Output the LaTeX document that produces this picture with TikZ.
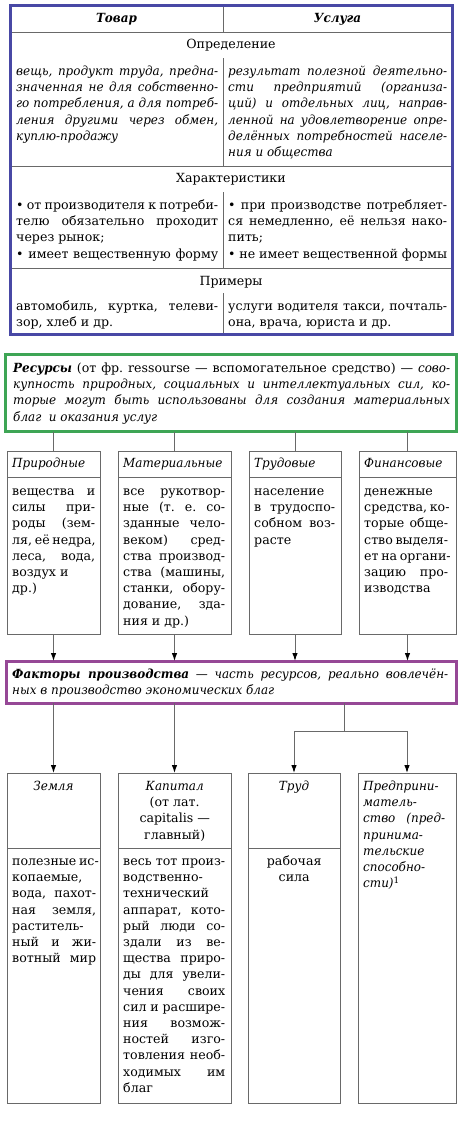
\documentclass[tikz,border=0pt]{standalone}
\usepackage{fontspec}
\setmainfont{DejaVu Serif}[ItalicFeatures={FakeStretch=0.95},BoldItalicFeatures={FakeStretch=0.95}]
\usetikzlibrary{arrows.meta,positioning}

\definecolor{tabblue}{RGB}{72,72,165}
\definecolor{resgreen}{RGB}{62,165,85}
\definecolor{fakviolet}{RGB}{150,72,150}
\definecolor{linegray}{RGB}{105,105,105}

\newcommand\fsize{\fontsize{12.6}{16.2}\selectfont\frenchspacing}
% a block of printed lines, and one line: justified, left or centred
\newcommand\linesbox[2]{\vtop{\hsize=#1pt\relax\parindent=0pt #2}}
\newcommand\jline[1]{\hbox to\hsize{\strut#1}}
\newcommand\lline[1]{\hbox{\strut#1}}
\newcommand\cenline[1]{\hbox to\hsize{\hfil\strut#1\hfil}}

\begin{document}
\begin{tikzpicture}[x=1pt,y=-1pt,
    font=\fsize,
    thinline/.style={draw=linegray, line width=1pt},
    cell/.style={thinline, anchor=north west, inner sep=0pt, outer sep=0pt, minimum width=#1},
    frame/.style={draw=#1, line width=3pt, anchor=north west, inner sep=0pt, outer sep=0pt},
    txt/.style={anchor=north west, inner sep=0pt},
    head/.style={anchor=base, inner sep=0pt},
    arr/.style={thinline, -{Latex[length=8pt,width=5.5pt,color=black]}}
]
\useasboundingbox (0,0) rectangle (474,1122);

% Table: goods and services
\draw[thinline] (10,32) -- (452,32);
\draw[thinline] (10,166) -- (452,166);
\draw[thinline] (10,268) -- (452,268);
\draw[thinline] (223,5) -- (223,32);
\draw[thinline] (223,58) -- (223,166);
\draw[thinline] (223,192) -- (223,268);
\draw[thinline] (223,293) -- (223,334);
\node[frame=tabblue, minimum width=442, minimum height=329] (tab) at (10,5.3) {};

\node[head] (tovar) at (116.5,22) {\bfseries\itshape Товар};
\node[head] (usluga) at (337.5,22) {\bfseries\itshape Услуга};
\node[head] (opred) at (231,48.5) {Определение};
\node[head] (harakt) at (231,182.5) {Характеристики};
\node[head] (primer) at (231,285.5) {Примеры};

\node[txt] (defL) at (16,64) {\linesbox{202}{\itshape
  \jline{вещь, продукт труда, предна-}
  \jline{значенная не для собственно-}
  \jline{го потребления, а для потреб-}
  \jline{ления другими через обмен,}
  \lline{куплю-продажу}}};
\node[txt] (defR) at (228,64) {\linesbox{219}{\itshape
  \jline{результат полезной деятельно-}
  \jline{сти предприятий (организа-}
  \jline{ций) и отдельных лиц, направ-}
  \jline{ленной на удовлетворение опре-}
  \jline{делённых потребностей населе-}
  \lline{ния и общества}}};

\node[txt] (harL) at (16,198) {\linesbox{202}{
  \jline{• от производителя к потреби-}
  \jline{телю обязательно проходит}
  \lline{через рынок;}
  \jline{• имеет вещественную форму}}};
\node[txt] (harR) at (228,198) {\linesbox{219}{
  \jline{• при производстве потребляет-}
  \jline{ся немедленно, её нельзя нако-}
  \lline{пить;}
  \jline{• не имеет вещественной формы}}};

\node[txt] (primL) at (16,299) {\linesbox{202}{
  \jline{автомобиль, куртка, телеви-}
  \lline{зор, хлеб и др.}}};
\node[txt] (primR) at (228,299) {\linesbox{219}{
  \jline{услуги водителя такси, почталь-}
  \lline{она, врача, юриста и др.}}};

% Resources
\node[frame=resgreen, minimum width=450.7, minimum height=77] (res) at (5.3,354.7) {};
\node[txt] (resT) at (13,361) {\linesbox{437}{
  \jline{{\bfseries\itshape Ресурсы} (от фр. ressourse — вспомогательное средство) — {\itshape сово-}}
  \itshape
  \jline{купность природных, социальных и интеллектуальных сил, ко-}
  \jline{торые могут быть использованы для создания материальных}
  \lline{благ\ \ и оказания услуг}}};

\node[cell=93, minimum height=183] (prirod) at (7,451) {};
\node[cell=113, minimum height=183] (mater) at (118,451) {};
\node[cell=92, minimum height=183] (trudov) at (249,451) {};
\node[cell=97, minimum height=183] (finans) at (359,451) {};
\foreach \b in {prirod,mater,trudov,finans}
  \draw[thinline] ([yshift=-26pt]\b.north west) -- ([yshift=-26pt]\b.north east);

\node[txt] (prirodH) at (12,456) {\lline{\itshape Природные}};
\node[txt] (materH) at (123,456) {\lline{\itshape Материальные}};
\node[txt] (trudovH) at (254,456) {\lline{\itshape Трудовые}};
\node[txt] (finansH) at (364,456) {\lline{\itshape Финансовые}};

\node[txt] (prirodT) at (12,484) {\linesbox{83}{
  \jline{вещества и}
  \jline{силы при-}
  \jline{роды (зем-}
  \jline{ля, её недра,}
  \jline{леса, вода,}
  \lline{воздух и}
  \lline{др.)}}};
\node[txt] (materT) at (123,484) {\linesbox{102}{
  \jline{все рукотвор-}
  \jline{ные (т. е. со-}
  \jline{зданные чело-}
  \jline{веком) сред-}
  \jline{ства производ-}
  \jline{ства (машины,}
  \jline{станки, обору-}
  \jline{дование, зда-}
  \lline{ния и др.)}}};
\node[txt] (trudovT) at (254,484) {\linesbox{81}{
  \lline{население}
  \jline{в трудоспо-}
  \jline{собном воз-}
  \lline{расте}}};
\node[txt] (finansT) at (364,484) {\linesbox{84}{
  \lline{денежные}
  \jline{средства, ко-}
  \jline{торые обще-}
  \jline{ство выделя-}
  \jline{ет на органи-}
  \jline{зацию про-}
  \lline{изводства}}};

\foreach \b in {prirod,mater,trudov,finans}
  \draw[thinline] (res.south -| \b.north) -- (\b.north);

% Factors of production
\node[frame=fakviolet, minimum width=450.7, minimum height=42] (fak) at (6,661) {};
\node[txt] (fakT) at (12,667) {\linesbox{436}{\itshape
  \jline{{\bfseries Факторы производства} — часть ресурсов, реально вовлечён-}
  \lline{ных в производство экономических благ}}};

\foreach \b in {prirod,mater,trudov,finans}
  \draw[arr] (\b.south) -- (\b.south |- fak.north);

\node[cell=93, minimum height=330] (zemlya) at (7,773) {};
\node[cell=113, minimum height=330] (kapital) at (118,773) {};
\node[cell=92, minimum height=330] (trud) at (248,773) {};
\node[cell=98, minimum height=330] (predpr) at (358,773) {};
\foreach \b in {zemlya,kapital,trud}
  \draw[thinline] ([yshift=-75pt]\b.north west) -- ([yshift=-75pt]\b.north east);

\node[head] (zemlyaH) at (53.5,790.3) {\itshape Земля};
\node[txt] (kapitalH) at (119.5,779) {\linesbox{110}{
  \cenline{\itshape Капитал}
  \cenline{(от лат.}
  \cenline{capitalis —}
  \cenline{главный)}}};
\node[head] (trudH) at (294,790.3) {\itshape Труд};
\node[txt] (predprT) at (363,779) {\linesbox{82}{\itshape
  \lline{Предприни-}
  \lline{матель-}
  \jline{ство (пред-}
  \lline{принима-}
  \lline{тельские}
  \lline{способно-}
  \lline{сти)\textsuperscript{\upshape 1}}}};

\node[txt] (zemlyaT) at (12,854) {\linesbox{84}{
  \jline{полезные ис-}
  \lline{копаемые,}
  \jline{вода, пахот-}
  \jline{ная земля,}
  \lline{раститель-}
  \jline{ный и жи-}
  \jline{вотный мир}}};
\node[txt] (kapitalT) at (123,854) {\linesbox{102}{
  \jline{весь тот произ-}
  \lline{водственно-}
  \lline{технический}
  \jline{аппарат, кото-}
  \jline{рый люди со-}
  \jline{здали из ве-}
  \jline{щества приро-}
  \jline{ды для увели-}
  \jline{чения своих}
  \jline{сил и расшире-}
  \jline{ния возмож-}
  \jline{ностей изго-}
  \jline{товления необ-}
  \jline{ходимых им}
  \lline{благ}}};
\node[txt] (trudT) at (250,854) {\linesbox{88}{
  \cenline{рабочая}
  \cenline{сила}}};

\foreach \b in {zemlya,kapital}
  \draw[arr] (fak.south -| \b.north) -- (\b.north);
\coordinate (fork) at (344,731);
\draw[thinline] (fak.south -| fork) -- (fork);
\draw[arr] (fork) -| (trud.north);
\draw[arr] (fork) -| (predpr.north);

\end{tikzpicture}
\end{document}
